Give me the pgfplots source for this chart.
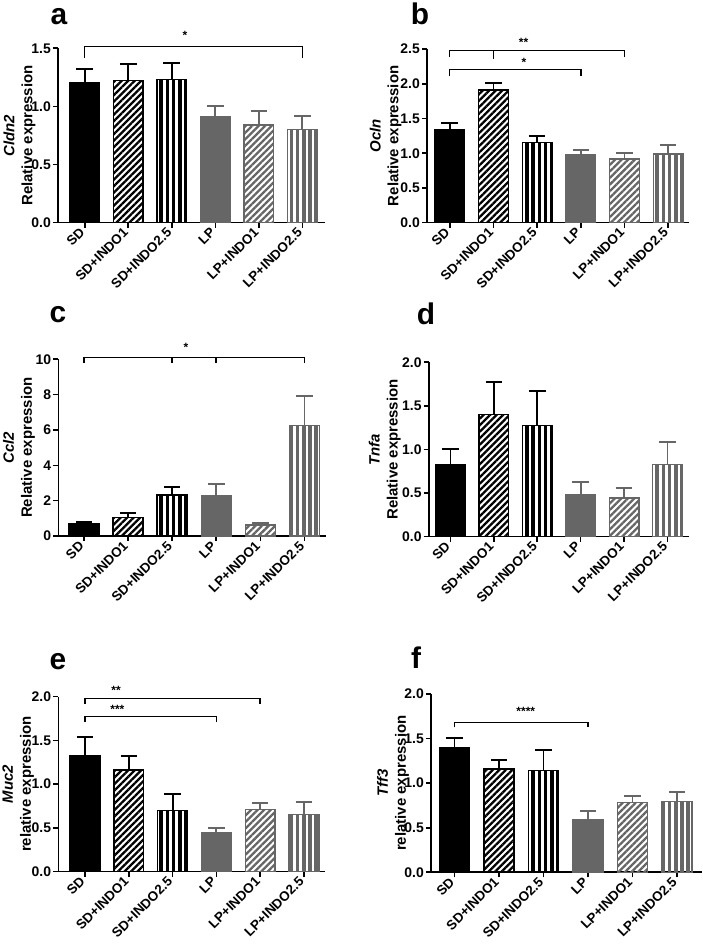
\documentclass[border=0pt]{standalone}
\usepackage{fontspec}
\setmainfont{Liberation Sans}
\usepackage{pgfplots}
\pgfplotsset{compat=1.18}
\usetikzlibrary{patterns.meta}
\definecolor{gr}{RGB}{102,102,102}

\tikzset{
 br/.style={line width=1.5bp, black},
 st/.style={font=\bfseries\fontsize{12}{12}\selectfont, anchor=center},
}
\pgfplotsset{
 eb/.style={error bars/.cd, y dir=plus, y explicit, error mark=|,
   error bar style={line width=1.8bp, #1},
   error mark options={line width=1.8bp, mark size=8.3bp, #1}},
 s1/.style={ybar, bar shift=0pt, fill=black, draw=black, line width=1.5bp, eb=black},
 s2/.style={ybar, bar shift=0pt, draw=black, line width=1.5bp,
   pattern={Lines[angle=45,distance=4.6bp,line width=2.3bp]}, pattern color=black, eb=black},
 s3/.style={ybar, bar shift=0pt, draw=black, line width=1.5bp,
   pattern={Lines[angle=90,distance=6.2bp,line width=3.6bp]}, pattern color=black, eb=black},
 s4/.style={ybar, bar shift=0pt, fill=gr, draw=gr, line width=1.5bp, eb=gr},
 s5/.style={ybar, bar shift=0pt, draw=gr, line width=1.5bp,
   pattern={Lines[angle=45,distance=4.6bp,line width=2.3bp]}, pattern color=gr, eb=gr},
 s6/.style={ybar, bar shift=0pt, draw=gr, line width=1.5bp,
   pattern={Lines[angle=90,distance=6.2bp,line width=3.6bp]}, pattern color=gr, eb=gr},
 panel/.style={
  scale only axis, clip=false, anchor=south west,
  axis x line*=bottom, axis y line*=left,
  axis line style={line width=1.6bp, -},
  ymin=0, bar width=0.68,
  xtick={0,...,5},
  xticklabels={SD,SD+INDO1,SD+INDO2.5,LP,LP+INDO1,LP+INDO2.5},
  xticklabel style={rotate=45, anchor=east, font=\bfseries\fontsize{13.5}{14}\selectfont, inner sep=3.5bp},
  yticklabel style={font=\bfseries\fontsize{14}{14}\selectfont, inner sep=2bp},
  tick align=outside, major tick length=5bp,
  tick style={line width=1.6bp, black},
  /pgf/number format/assume math mode=true,
  /pgf/number format/fixed, /pgf/number format/precision=1,
  /pgf/number format/fixed zerofill,
  ylabel style={anchor=center, align=center,
    font=\bfseries\fontsize{15}{18}\selectfont},
 },
}

\begin{document}
\begin{tikzpicture}[x=1bp,y=1bp]
\path[use as bounding box] (0,0) rectangle (703,944);

\node[anchor=base, font=\bfseries\fontsize{30}{30}\selectfont] at (59,919) {a};
\node[anchor=base, font=\bfseries\fontsize{30}{30}\selectfont] at (420,919) {b};
\node[anchor=base, font=\bfseries\fontsize{30}{30}\selectfont] at (58,621) {c};
\node[anchor=base, font=\bfseries\fontsize{30}{30}\selectfont] at (426,619) {d};
\node[anchor=base, font=\bfseries\fontsize{30}{30}\selectfont] at (58,274) {e};
\node[anchor=base, font=\bfseries\fontsize{30}{30}\selectfont] at (416,275) {f};

% ---- a
\begin{axis}[panel, at={(58bp,721.3bp)}, width=267bp, height=174.4bp,
  xmin=-0.614, xmax=5.52, ymax=1.5, ytick={0,0.5,1,1.5},
  ylabel={\textit{Cldn2}\\Relative expression},
  ylabel style={at={(axis description cs:-0.144,0.5)}}]
\addplot[s1] coordinates {(0,1.202) +- (0,0.117)};
\addplot[s2] coordinates {(1,1.222) +- (0,0.143)};
\addplot[s3] coordinates {(2,1.233) +- (0,0.138)};
\addplot[s4] coordinates {(3,0.912) +- (0,0.092)};
\addplot[s5] coordinates {(4,0.840) +- (0,0.124)};
\addplot[s6] coordinates {(5,0.800) +- (0,0.115)};
\draw[br] (axis cs:0,1.42) -- (axis cs:0,1.515) -- (axis cs:5,1.515) -- (axis cs:5,1.42);
\node[st] at (axis cs:2.3,1.61) {*};
\end{axis}

% ---- b
\begin{axis}[panel, at={(427bp,721.3bp)}, width=261.7bp, height=173.7bp,
  xmin=-0.52, xmax=5.47, ymax=2.5, ytick={0,0.5,1,1.5,2,2.5},
  ylabel={\textit{Ocln}\\Relative expression},
  ylabel style={at={(axis description cs:-0.158,0.5)}}]
\addplot[s1] coordinates {(0,1.334) +- (0,0.106)};
\addplot[s2] coordinates {(1,1.910) +- (0,0.105)};
\addplot[s3] coordinates {(2,1.157) +- (0,0.095)};
\addplot[s4] coordinates {(3,0.974) +- (0,0.072)};
\addplot[s5] coordinates {(4,0.916) +- (0,0.082)};
\addplot[s6] coordinates {(5,0.988) +- (0,0.125)};
\draw[br] (axis cs:0,2.39) -- (axis cs:0,2.476) -- (axis cs:4,2.476) -- (axis cs:4,2.39);
\draw[br] (axis cs:1,2.476) -- (axis cs:1,2.35);
\draw[br] (axis cs:0,2.11) -- (axis cs:0,2.207) -- (axis cs:3,2.207) -- (axis cs:3,2.11);
\node[st] at (axis cs:1.69,2.60) {**};
\node[st] at (axis cs:1.70,2.31) {*};
\end{axis}

% ---- c
\begin{axis}[panel, at={(58.3bp,408bp)}, width=267.7bp, height=176.7bp,
  xmin=-0.583, xmax=5.49, ymax=10, ytick={0,2,4,6,8,10},
  /pgf/number format/fixed zerofill=false, /pgf/number format/precision=0,
  ylabel={\textit{Ccl2}\\Relative expression},
  ylabel style={at={(axis description cs:-0.147,0.5)}}]
\addplot[s1] coordinates {(0,0.717) +- (0,0.093)};
\addplot[s2] coordinates {(1,1.04) +- (0,0.26)};
\addplot[s3] coordinates {(2,2.32) +- (0,0.47)};
\addplot[s4] coordinates {(3,2.28) +- (0,0.64)};
\addplot[s5] coordinates {(4,0.62) +- (0,0.10)};
\addplot[s6] coordinates {(5,6.25) +- (0,1.69)};
\draw[br] (axis cs:0,9.8) -- (axis cs:0,10.11) -- (axis cs:5,10.11) -- (axis cs:5,9.8);
\draw[br] (axis cs:2,10.11) -- (axis cs:2,9.8);
\draw[br] (axis cs:3,10.11) -- (axis cs:3,9.8);
\node[st] at (axis cs:2.31,10.68) {*};
\end{axis}

% ---- d
\begin{axis}[panel, at={(428.7bp,407.3bp)}, width=260bp, height=174.4bp,
  xmin=-0.5, xmax=5.49, ymax=2, ytick={0,0.5,1,1.5,2},
  ylabel={\textit{Tnfa}\\Relative expression},
  ylabel style={at={(axis description cs:-0.169,0.5)}}]
\addplot[s1] coordinates {(0,0.822) +- (0,0.184)};
\addplot[s2] coordinates {(1,1.403) +- (0,0.368)};
\addplot[s3] coordinates {(2,1.273) +- (0,0.398)};
\addplot[s4] coordinates {(3,0.486) +- (0,0.137)};
\addplot[s5] coordinates {(4,0.444) +- (0,0.114)};
\addplot[s6] coordinates {(5,0.830) +- (0,0.256)};
\end{axis}

% ---- e
\begin{axis}[panel, at={(58.3bp,72.3bp)}, width=266.7bp, height=175bp,
  xmin=-0.61, xmax=5.48, ymax=2, ytick={0,0.5,1,1.5,2},
  ylabel={\textit{Muc2}\\relative expression},
  ylabel style={at={(axis description cs:-0.15,0.5)}}]
\addplot[s1] coordinates {(0,1.326) +- (0,0.217)};
\addplot[s2] coordinates {(1,1.162) +- (0,0.164)};
\addplot[s3] coordinates {(2,0.701) +- (0,0.183)};
\addplot[s4] coordinates {(3,0.446) +- (0,0.049)};
\addplot[s5] coordinates {(4,0.712) +- (0,0.073)};
\addplot[s6] coordinates {(5,0.651) +- (0,0.145)};
\draw[br] (axis cs:0,1.92) -- (axis cs:0,1.981) -- (axis cs:4,1.981) -- (axis cs:4,1.92);
\draw[br] (axis cs:0,1.714) -- (axis cs:0,1.771) -- (axis cs:3,1.771) -- (axis cs:3,1.714);
\node[st] at (axis cs:0.71,2.07) {**};
\node[st] at (axis cs:0.74,1.855) {***};
\end{axis}

% ---- f
\begin{axis}[panel, at={(431bp,71.7bp)}, width=271bp, height=178.3bp,
  xmin=-0.53, xmax=5.56, ymax=2, ytick={0,0.5,1,1.5,2},
  ylabel={\textit{Tff3}\\relative expression},
  ylabel style={at={(axis description cs:-0.14,0.5)}}]
\addplot[s1] coordinates {(0,1.398) +- (0,0.112)};
\addplot[s2] coordinates {(1,1.159) +- (0,0.105)};
\addplot[s3] coordinates {(2,1.140) +- (0,0.232)};
\addplot[s4] coordinates {(3,0.594) +- (0,0.098)};
\addplot[s5] coordinates {(4,0.781) +- (0,0.079)};
\addplot[s6] coordinates {(5,0.793) +- (0,0.104)};
\draw[br] (axis cs:0,1.626) -- (axis cs:0,1.678) -- (axis cs:3,1.678) -- (axis cs:3,1.626);
\node[st] at (axis cs:1.6,1.81) {****};
\end{axis}
\end{tikzpicture}
\end{document}
